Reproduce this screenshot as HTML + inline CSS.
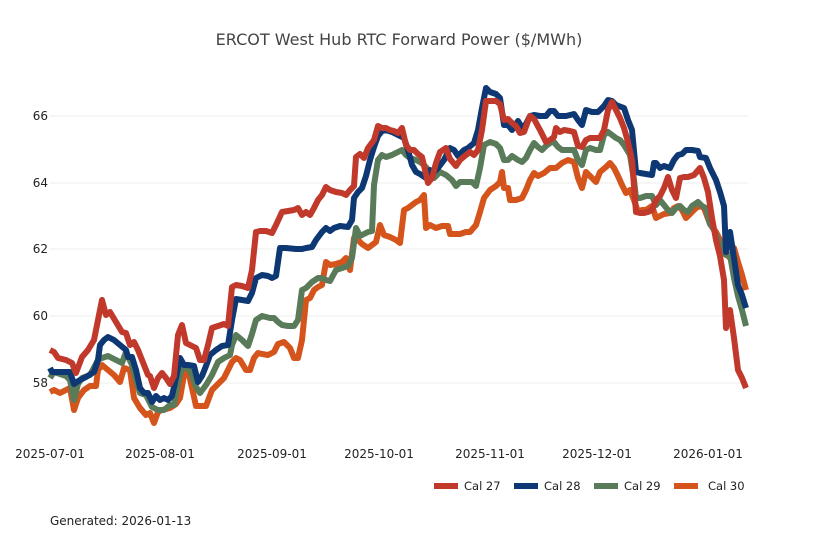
<!DOCTYPE html><html><head><meta charset="utf-8"><style>
body{margin:0;background:#fff;}svg{display:block;font-family:"DejaVu Sans","Liberation Sans",sans-serif;}
</style></head><body>
<svg width="818" height="545" viewBox="0 0 818 545" xmlns="http://www.w3.org/2000/svg">
<rect width="818" height="545" fill="#fff"/>
<text x="399" y="45" text-anchor="middle" font-size="16" fill="#444">ERCOT West Hub RTC Forward Power ($/MWh)</text>
<g stroke="#ececec" stroke-width="1">
<line x1="50" x2="748" y1="116" y2="116"/><line x1="50" x2="748" y1="183" y2="183"/><line x1="50" x2="748" y1="249" y2="249"/><line x1="50" x2="748" y1="316" y2="316"/><line x1="50" x2="748" y1="383" y2="383"/>
</g>
<g font-size="12" fill="#222" text-anchor="end">
<text x="48" y="120">66</text><text x="48" y="187">64</text><text x="48" y="253">62</text><text x="48" y="320">60</text><text x="48" y="387">58</text>
</g>
<g font-size="12" fill="#222" text-anchor="middle">
<text x="50" y="458">2025-07-01</text><text x="160" y="458">2025-08-01</text><text x="272" y="458">2025-09-01</text><text x="379" y="458">2025-10-01</text><text x="490" y="458">2025-11-01</text><text x="597" y="458">2025-12-01</text><text x="708" y="458">2026-01-01</text>
</g>
<g fill="none" stroke-width="6" stroke-linejoin="round">
<polyline stroke="#d4541c" points="50,392 54,390 60,393 66,390 70,388 74,410 78,398 84,390 90,386 96,386 98,370 102,365 108,370 114,375 120,382 124,368 130,370 134,398 140,408 146,415 150,413 154,423 158,412 162,410 170,408 176,404 180,398 184,375 188,370 192,388 196,406 202,406 206,406 212,390 218,384 224,378 228,370 232,362 236,358 240,360 246,370 250,370 254,358 258,353 262,354 268,355 274,352 278,344 284,342 290,348 294,358 298,358 302,340 306,300 310,298 314,290 318,287 322,285 326,262 330,265 336,264 342,262 346,258 350,270 354,238 358,240 362,244 368,248 372,245 376,242 380,225 384,235 390,237 396,240 400,243 404,210 408,208 412,205 416,202 420,200 424,195 426,228 430,225 436,228 442,226 448,226 450,234 456,234 460,234 466,232 470,232 476,225 480,212 484,198 490,190 496,186 500,182 502,172 504,188 508,188 510,200 516,200 522,198 526,190 530,180 534,173 538,176 544,173 550,168 556,168 562,163 568,160 574,162 578,178 582,188 586,172 592,178 596,182 600,172 606,167 610,163 614,168 618,176 622,185 626,193 630,190 634,200 638,212 642,210 646,210 652,206 656,218 660,216 664,214 670,213 674,208 678,206 682,210 686,218 690,214 696,208 700,206 704,208 710,224 716,232 720,240 724,252 730,258 734,248 738,262 742,275 746,290"/>
<polyline stroke="#5a7b5a" points="50,378 54,372 60,374 66,376 70,380 74,400 78,384 82,378 90,375 98,360 102,358 108,356 116,360 122,363 126,352 132,365 136,380 140,393 146,395 152,407 158,410 164,410 170,405 174,405 178,383 182,368 186,368 190,370 196,387 200,393 206,385 212,375 218,362 224,358 230,355 232,345 236,335 242,340 248,346 252,334 256,320 262,316 270,318 274,318 278,322 282,325 288,326 294,326 298,320 302,290 306,288 312,282 318,278 322,278 326,280 330,281 336,270 342,268 348,266 352,258 356,228 360,236 364,234 368,232 372,231 374,185 378,160 382,155 386,157 392,155 398,152 402,150 406,155 410,158 416,160 420,162 424,165 430,172 434,178 440,172 446,175 452,180 456,186 460,182 466,182 472,182 476,186 480,168 484,145 490,142 496,144 500,148 504,160 508,160 512,156 518,160 522,162 526,158 530,150 534,143 538,147 542,150 546,146 550,143 554,142 558,147 562,150 570,150 574,150 578,160 582,165 586,150 590,148 596,150 600,150 604,135 608,132 612,135 616,138 620,140 624,145 630,155 634,180 636,198 640,198 646,196 652,196 656,205 660,200 664,205 668,210 672,213 676,208 680,206 684,210 688,212 692,206 698,202 702,206 706,208 710,224 714,230 718,240 722,252 726,255 730,255 734,278 738,296 742,310 746,326"/>
<polyline stroke="#0e3873" points="50,368 52,372 56,372 66,372 70,372 74,384 80,380 86,377 94,372 98,360 100,345 104,340 108,337 114,340 120,345 126,350 128,357 132,357 136,370 140,388 144,393 148,393 152,402 156,396 160,400 164,398 168,400 172,396 176,378 180,358 184,365 188,365 194,366 198,382 202,376 206,366 210,355 216,350 222,346 228,345 232,320 236,299 242,300 248,301 252,293 256,278 262,275 268,276 272,278 276,276 280,248 286,248 296,249 302,249 306,248 312,247 316,240 322,232 326,228 330,231 334,228 340,226 348,227 352,220 354,198 358,192 362,188 366,176 370,160 374,147 378,136 382,131 386,130 392,132 398,135 404,138 408,150 412,165 416,172 420,174 426,178 430,170 434,172 438,168 444,160 450,148 454,150 458,156 464,150 468,148 474,143 478,130 482,108 486,88 490,92 496,94 500,98 504,125 508,125 512,130 518,121 522,128 526,124 530,116 534,115 540,116 546,116 550,111 554,111 558,116 566,116 570,115 574,114 578,120 582,125 586,110 592,112 598,112 604,106 608,100 612,101 616,105 624,108 628,120 632,130 636,172 640,173 646,174 652,175 654,163 656,163 660,168 664,166 670,168 674,160 678,155 682,154 686,150 692,150 698,151 700,157 706,158 710,168 716,180 720,192 724,206 726,252 730,232 734,258 738,285 742,295 746,308"/>
<polyline stroke="#c0392b" points="50,350 54,352 58,358 66,360 72,363 76,373 82,357 88,350 94,340 98,320 102,300 106,315 110,312 116,322 122,332 126,333 130,345 134,342 138,350 144,365 148,375 150,376 154,388 158,378 162,373 166,378 170,384 174,376 178,335 182,325 186,343 190,345 196,348 200,360 204,360 208,345 212,328 218,326 224,324 228,326 232,287 236,285 242,286 248,288 252,270 256,232 260,231 266,231 272,233 276,225 282,212 288,211 294,210 298,208 302,215 306,212 310,215 314,208 318,200 322,195 326,187 330,190 336,192 342,193 346,195 350,190 354,186 356,157 360,154 364,158 368,148 374,140 378,126 382,128 386,128 390,130 394,131 398,133 402,128 406,145 410,150 414,150 418,154 422,157 428,183 432,178 436,163 440,152 446,148 450,159 456,166 460,160 466,155 470,152 474,155 478,150 482,130 486,101 490,101 496,101 500,104 504,120 508,119 512,123 516,126 520,133 524,132 530,116 534,119 540,130 546,142 550,140 554,137 556,128 560,132 564,130 570,131 574,132 578,146 582,147 586,140 590,138 596,138 600,138 604,130 608,110 612,102 616,110 620,118 624,128 628,142 632,160 636,212 640,213 644,213 648,212 652,210 656,200 660,196 664,188 668,177 672,190 676,198 680,178 684,177 688,177 694,175 700,168 704,178 708,192 712,218 716,240 720,256 724,280 726,328 730,310 734,338 738,370 742,378 746,388"/>
</g>
<g font-size="11.5" fill="#222" stroke-width="6">
<line x1="434" x2="458" y1="486" y2="486" stroke="#c0392b"/><text x="464" y="490">Cal 27</text>
<line x1="514" x2="538" y1="486" y2="486" stroke="#0e3873"/><text x="544" y="490">Cal 28</text>
<line x1="594" x2="618" y1="486" y2="486" stroke="#5a7b5a"/><text x="624" y="490">Cal 29</text>
<line x1="674" x2="698" y1="486" y2="486" stroke="#d4541c"/><text x="708" y="490">Cal 30</text>
</g>
<text x="50" y="525" font-size="12" fill="#222">Generated: 2026-01-13</text>
</svg>
</body></html>
